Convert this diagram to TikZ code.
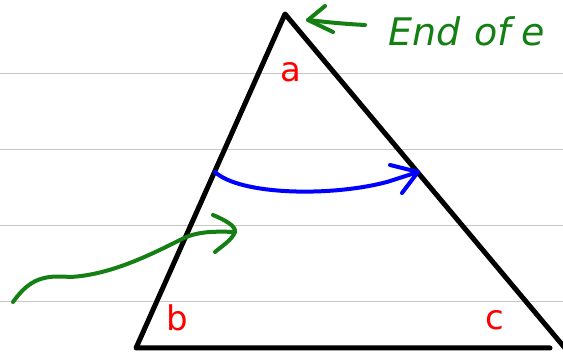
\documentclass[tikz,border=0pt]{standalone}
\usepackage{fontspec}
\setsansfont{DejaVu Sans}
\begin{document}
\begin{tikzpicture}[x=1pt,y=-1pt,
  ruled/.style={draw=black!22, line width=1pt},
  tri/.style={draw=black, line width=5pt, line cap=round, line join=round},
  pen/.style={line width=4pt, line cap=round, line join=round},
  lbl/.style={text=red, font=\sffamily\fontsize{34}{34}\selectfont, inner sep=0pt},
  note/.style={text=gkgreen, font=\sffamily\itshape\fontsize{38}{38}\selectfont, inner sep=0pt, anchor=base west}]
\definecolor{gkgreen}{RGB}{20,128,20}
\useasboundingbox (0,0) rectangle (563,355);
\clip (0,0) rectangle (563,355);
\fill[white] (0,0) rectangle (563,355);
% ruled lines
\foreach \yy in {74,150,226,302} \draw[ruled] (0,\yy) -- (563,\yy);
% triangle
\coordinate (A) at (285,14);
\coordinate (B) at (136,348);
\coordinate (Bend) at (550,348);
\coordinate (C) at (575,360);
\draw[tri] (C) -- (A) -- (B) -- (Bend);
% labels
\node[lbl] (la) at (291,72) {a};
\node[lbl] (lb) at (177,318) {b};
\node[lbl] (lc) at (495,320) {c};
% top note
\node[note] (txt) at (388,46) {End\hspace{14pt}of\hspace{10pt}e};
\coordinate (g1) at (365,25);
\coordinate (g0) at (308,20);
\draw[pen, gkgreen] (g1) .. controls (345,24) and (325,22) .. (g0);
\draw[pen, gkgreen] (325,6) -- (g0) -- (333,32);
% blue arrow
\coordinate (b0) at (215,172);
\coordinate (b1) at (418,172);
\draw[pen, blue] (b0) .. controls (240,195) and (330,197) .. (387,182) -- (b1);
\draw[pen, blue] (390,165) -- (b1) -- (402,193);
% green arrow
\coordinate (q0) at (13,302);
\coordinate (q1) at (235,232);
\draw[pen, gkgreen] (q0) .. controls (30,278) and (45,275) .. (70,277)
   .. controls (110,275) and (150,255) .. (180,240)
   .. controls (195,232) and (210,231) .. (q1);
\draw[pen, gkgreen] (213,215) .. controls (225,220) and (236,226) .. (q1) .. controls (232,240) and (222,246) .. (215,252);
\end{tikzpicture}
\end{document}
